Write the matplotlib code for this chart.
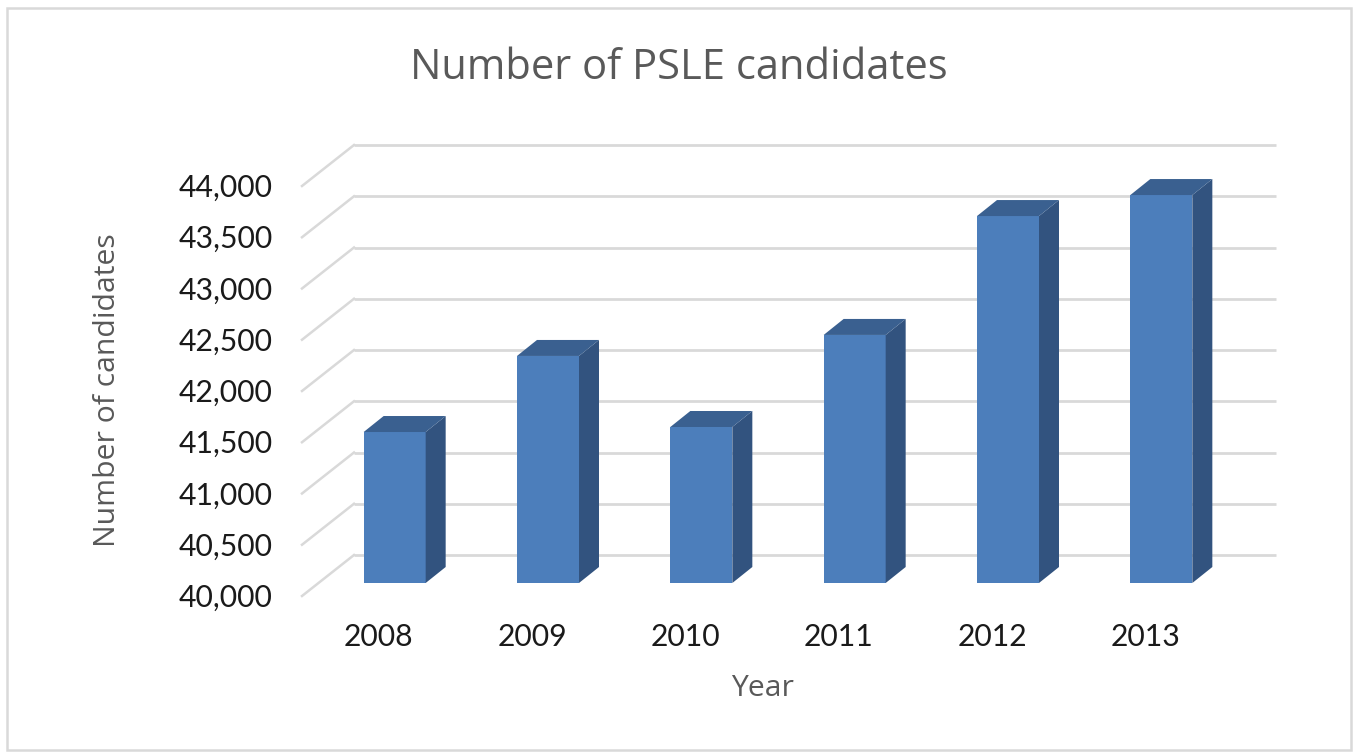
import matplotlib
matplotlib.use("Agg")
import matplotlib.pyplot as plt
from matplotlib.patches import Rectangle, Polygon
from matplotlib.transforms import Affine2D

years = ["2008", "2009", "2010", "2011", "2012", "2013"]
candidates = [41473, 42215, 41522, 42420, 43580, 43785]
y_ticks = [40000, 40500, 41000, 41500, 42000, 42500, 43000, 43500, 44000]

W, H = 1356, 752
GRID = "#d9d9d9"
TXT = "#595959"
FRONT, SIDE, TOP = "#4c7ebb", "#32537f", "#3a6090"

fig = plt.figure(figsize=(W / 100, H / 100), dpi=100, facecolor="white")
# frame of the chart
fig.add_artist(Rectangle((7 / W, 1 - 750 / H), 1344 / W, 742 / H, transform=fig.transFigure,
                         fill=False, edgecolor="#d9d9d9", lw=1.8))

# axes = plane through the bar fronts
ax = fig.add_axes([318 / W, 1 - 583 / H, 920 / W, 410 / H])
ax.set_xlim(-0.5, 5.5)
ax.set_ylim(40000, 44000)
ax.axis("off")


def shift(dx, dy):
    """Data transform moved by pixels (dy up)."""
    return ax.transData + Affine2D().translate(dx, dy)


to_wall = shift(36, 28)
to_front = shift(-16, -13)

for v in y_ticks:
    ax.plot([-0.5, 5.513], [v, v], transform=to_wall, color=GRID, lw=2, clip_on=False, zorder=1,
            solid_capstyle="butt")
    p0 = to_front.transform((-0.5, v))
    p1 = to_wall.transform((-0.5, v))
    ax.plot([p0[0], p1[0]], [p0[1], p1[1]], transform=None, color=GRID, lw=1.8, clip_on=False, zorder=1)
    ax.annotate(f"{v:,}", xy=(-0.5, v), xycoords=to_front, xytext=(-29, -2),
                textcoords="offset pixels", ha="right", va="center", fontsize=21.7,
                family="Lato", color="#1a1a1a", annotation_clip=False)

BAR_W = 62 / (920 / 6)
SD = (20, 16)
base = 40000
for i, v in enumerate(candidates):
    x0, x1 = i - BAR_W / 2, i + BAR_W / 2
    ax.bar(i, v - base, BAR_W, bottom=base, color=FRONT, zorder=3, clip_on=False)
    a, b = ax.transData.transform([(x1, base), (x1, v)])
    c = ax.transData.transform((x0, v))
    ax.add_patch(Polygon([a, a + SD, b + SD, b], closed=True, transform=None, facecolor=SIDE,
                         edgecolor="none", zorder=3, clip_on=False))
    ax.add_patch(Polygon([c, c + SD, b + SD, b], closed=True, transform=None, facecolor=TOP,
                         edgecolor="none", zorder=3, clip_on=False))
    ax.annotate(years[i], xy=(i, base), xycoords="data", xytext=(-16, -54),
                textcoords="offset pixels", ha="center", va="center", fontsize=21.7,
                family="Lato", color="#1a1a1a", annotation_clip=False)

fig.text(679 / W, 1 - 68 / H, "Number of PSLE candidates", ha="center", va="center",
         fontsize=30, family="Open Sans", color=TXT)
fig.text(762 / W, 1 - 688 / H, "Year", ha="center", va="center", fontsize=21.7,
         family="Open Sans", color=TXT)
fig.text(108 / W, 1 - 390 / H, "Number of candidates", ha="center", va="center", rotation=90,
         fontsize=21.7, family="Open Sans", color=TXT)

fig.savefig("out.png", dpi=100, facecolor="white")
